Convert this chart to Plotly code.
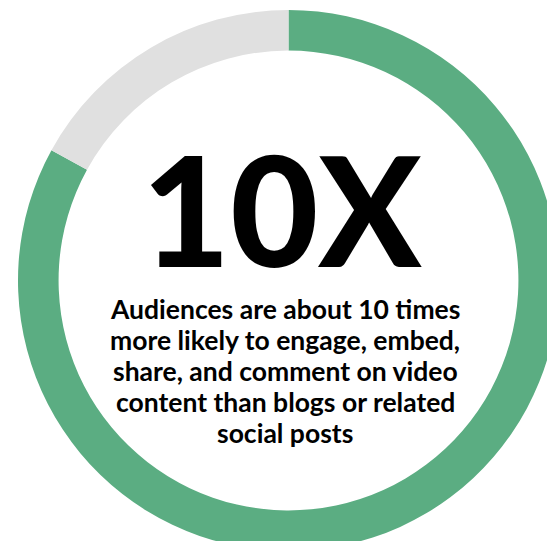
import plotly.graph_objects as go

labels = ["More likely to engage with video", "Other"]
values = [83, 17]
colors = ["#5BAD82", "#E0E0E0"]

headline = "10X"
body_lines = [
    "Audiences are about 10 times",
    "more likely to engage, embed,",
    "share, and comment on video",
    "content than blogs or related",
    "social posts",
]

fig = go.Figure(
    go.Pie(
        labels=labels,
        values=values,
        hole=0.85,
        sort=False,
        direction="clockwise",
        rotation=0,
        marker=dict(colors=colors, line=dict(width=0)),
        textinfo="none",
        hoverinfo="skip",
        showlegend=False,
    )
)

W, H = 560, 552
L, T = 18, 10
fig.update_layout(
    width=W,
    height=H,
    margin=dict(l=L, r=W - L - 541, t=T, b=H - T - 541),
    paper_bgcolor="white",
    plot_bgcolor="white",
    showlegend=False,
)

def px_x(x):
    return (x - L) / 541

def px_y(y):
    return 1 - (y - T) / 541

fig.add_annotation(
    text=headline,
    x=px_x(282), y=px_y(208),
    xref="paper", yref="paper",
    xanchor="center", yanchor="middle",
    showarrow=False,
    font=dict(family="Lato", size=152, color="black", weight=900),
)

body_size = 26.5
first_baseline = 317
line_step = 31
for i, line in enumerate(body_lines):
    baseline = first_baseline + i * line_step
    fig.add_annotation(
        text=line,
        x=px_x(285), y=px_y(baseline - 0.3 * body_size),
        xref="paper", yref="paper",
        xanchor="center", yanchor="middle",
        showarrow=False,
        align="center",
        font=dict(family="Lato", size=body_size, color="black", weight=700),
    )

fig.write_html("out.html")
